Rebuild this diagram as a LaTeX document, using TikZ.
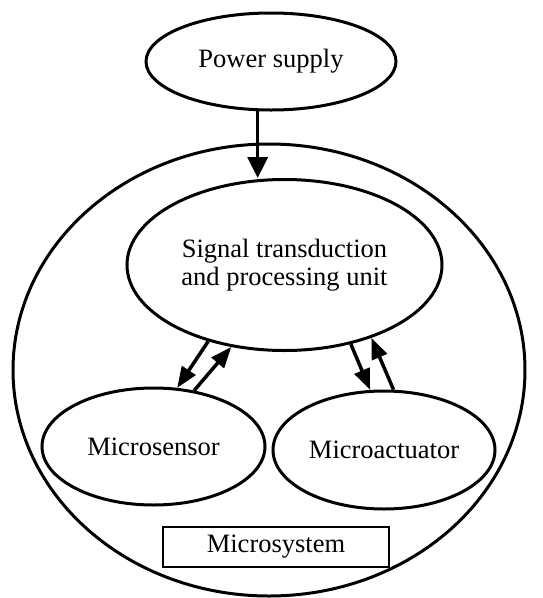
\documentclass[tikz,border=0pt]{standalone}
\usepackage{fontspec}
\setmainfont{Liberation Serif}
\usetikzlibrary{shapes.geometric,arrows.meta}
\tikzset{blob/.style={draw, ellipse, line width=3pt, inner sep=0pt},
  arr/.style={-{Triangle[length=21pt,width=20pt]}, line width=3.5pt},
  arrsmall/.style={-{Triangle[length=21pt,width=16pt]}, line width=3.5pt}}

\begin{document}
\begin{tikzpicture}[x=1pt,y=-1pt,font=\fontsize{26.5}{28}\selectfont]
  \useasboundingbox (0,0) rectangle (542,598);
  % outer system
  \node[blob, minimum width=512pt, minimum height=452pt] (sys) at (269,370) {};
  \node[blob, minimum width=250pt, minimum height=97pt] (ps) at (271,61.5) {Power supply};
  \node[blob, align=center, minimum width=315pt, minimum height=171pt] (sig) at (284.5,265)
    {Signal transduction\\and processing unit};
  \node[blob, minimum width=223pt, minimum height=117pt] (sens) at (153.5,446.5) {Microsensor};
  \node[blob, minimum width=222pt, minimum height=118pt] (act) at (384,450) {Microactuator};
  \node[draw, line width=2.2pt, minimum width=226pt, minimum height=40pt, inner sep=0pt] (lab) at (276,547) {Microsystem};
  % connectors
  \draw[arr] (ps.255) -- (ps.255 |- sig.north);
  \draw[arrsmall] (sig.225) -- (sens.68);
  \draw[arrsmall] (sens.54) -- (sig.237);
  \draw[arrsmall] (sig.310) -- (act.103);
  \draw[arrsmall] (act.81) -- (sig.320);
\end{tikzpicture}
\end{document}
